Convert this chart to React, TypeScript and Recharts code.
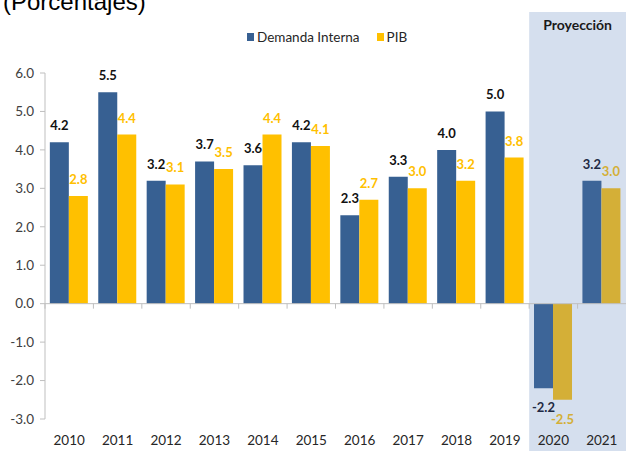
import React from 'react';
import { BarChart, Bar, XAxis, YAxis, Cell, LabelList, ReferenceArea, ReferenceLine } from 'recharts';

const years = ['2010', '2011', '2012', '2013', '2014', '2015', '2016', '2017', '2018', '2019', '2020', '2021'];
const demandaInterna = [4.2, 5.5, 3.2, 3.7, 3.6, 4.2, 2.3, 3.3, 4.0, 5.0, -2.2, 3.2];
const pib = [2.8, 4.4, 3.1, 3.5, 4.4, 4.1, 2.7, 3.0, 3.2, 3.8, -2.5, 3.0];
const yTicks = [-3, -2, -1, 0, 1, 2, 3, 4, 5, 6];
const projectionYears = ['2020', '2021'];

const data = years.map((year, i) => ({ year, demanda: demandaInterna[i], pib: pib[i] }));

const W = 626;
const H = 451;
const TOP = 73;
const AXIS_W = 45;
const XAXIS_H = 32;
const PLOT_H = H - TOP - XAXIS_H;
const BAND = (W - AXIS_W) / years.length;
const ZERO_Y = TOP + (PLOT_H * 6) / 9;

const FONT = "Lato, 'Open Sans', sans-serif";
const AXIS_GRAY = '#BFBFBF';
const BLUE = '#376092';
const GOLD = '#FFC000';
const BLUE_PROJ = '#3D6598';
const GOLD_PROJ = '#D4AF37';

const isProj = (year: string) => projectionYears.includes(year);

function XTick(props: any) {
  const { x, y, payload } = props;
  const left = x - BAND / 2;
  return (
    <g>
      <line x1={left} x2={left} y1={ZERO_Y} y2={ZERO_Y + 5} stroke={AXIS_GRAY} />
      <text x={x} y={y + 18} textAnchor="middle" fontSize={13.5} fontFamily={FONT} fill="#262626">
        {payload.value}
      </text>
    </g>
  );
}

function makeLabel(color: string, projColor: string) {
  return (props: any) => {
    const { x, y, width, height, value, index } = props;
    const top = Math.min(y, y + height);
    const bottom = Math.max(y, y + height);
    const ty = value >= 0 ? top - 12 : bottom + 24;
    return (
      <text
        x={x + width / 2}
        y={ty}
        textAnchor="middle"
        fontSize={13}
        fontWeight="bold"
        fontFamily={FONT}
        fill={isProj(years[index]) ? projColor : color}
      >
        {Number(value).toFixed(1)}
      </text>
    );
  };
}

function ProjectionShape(props: any) {
  const { x, width } = props;
  return (
    <g>
      <rect x={x} y={12} width={width} height={H - 12} fill="#D5DFEE" />
      <text x={x + width / 2} y={30} textAnchor="middle" fontSize={14} fontWeight="bold" fontFamily={FONT} fill="#1a1a1a">
        Proyección
      </text>
    </g>
  );
}

export default function App() {
  return (
    <div style={{ position: 'absolute', left: 0, top: 0, width: W, height: H, background: '#fff', overflow: 'hidden' }}>
      <div
        style={{
          position: 'absolute',
          left: 3,
          top: -10,
          fontFamily: "'Liberation Sans', Arial, sans-serif",
          fontSize: 24,
          lineHeight: 1,
          color: '#000',
          whiteSpace: 'nowrap',
        }}
      >
        (Porcentajes)
      </div>
      <BarChart
        width={W}
        height={H}
        data={data}
        margin={{ top: TOP, right: 0, bottom: 0, left: 0 }}
        barCategoryGap="10%"
        barGap={0}
      >
        <ReferenceArea x1="2020" x2="2021" ifOverflow="visible" shape={ProjectionShape} />
        <XAxis dataKey="year" height={XAXIS_H} axisLine={false} tickLine={false} tick={XTick} interval={0} />
        <YAxis
          width={AXIS_W}
          domain={[-3, 6]}
          ticks={yTicks}
          interval={0}
          allowDataOverflow
          stroke={AXIS_GRAY}
          tickSize={5}
          tickMargin={6}
          tick={{ fill: '#404040', fontSize: 13.5, fontFamily: FONT }}
          tickFormatter={(v: number) => v.toFixed(1)}
        />
        <ReferenceLine y={0} stroke={AXIS_GRAY} />
        <Bar dataKey="demanda" fill={BLUE} isAnimationActive={false}>
          {data.map((d) => (
            <Cell key={d.year} fill={isProj(d.year) ? BLUE_PROJ : BLUE} />
          ))}
          <LabelList dataKey="demanda" content={makeLabel('#111111', '#1F2A44')} />
        </Bar>
        <Bar dataKey="pib" fill={GOLD} isAnimationActive={false}>
          {data.map((d) => (
            <Cell key={d.year} fill={isProj(d.year) ? GOLD_PROJ : GOLD} />
          ))}
          <LabelList dataKey="pib" content={makeLabel(GOLD, GOLD_PROJ)} />
        </Bar>
      </BarChart>
      <div
        style={{
          position: 'absolute',
          left: 247,
          top: 29,
          display: 'flex',
          alignItems: 'center',
          fontFamily: FONT,
          fontSize: 13.5,
          lineHeight: '16px',
          color: '#262626',
          whiteSpace: 'nowrap',
        }}
      >
        <span style={{ display: 'inline-block', width: 7, height: 8, background: BLUE, marginRight: 3 }} />
        <span>Demanda Interna</span>
        <span style={{ display: 'inline-block', width: 7, height: 8, background: GOLD, marginLeft: 17, marginRight: 3 }} />
        <span>PIB</span>
      </div>
    </div>
  );
}
